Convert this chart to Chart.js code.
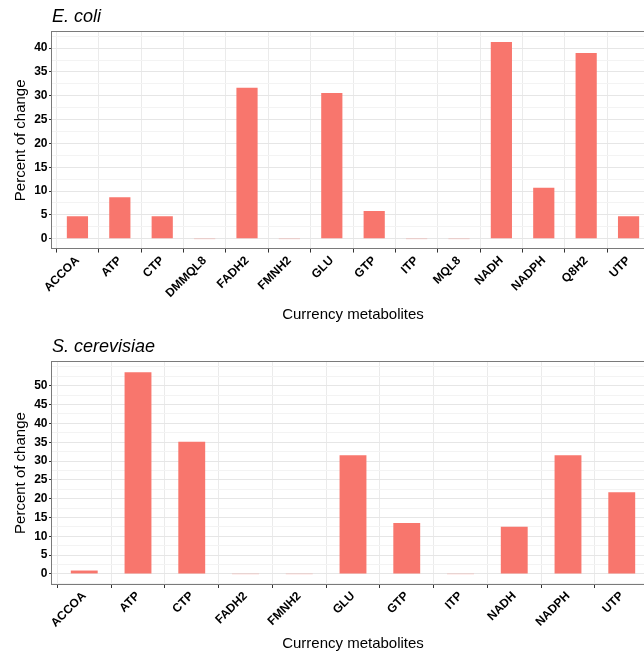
<!DOCTYPE html>
<html>
<head>
<meta charset="utf-8">
<script src="https://cdn.jsdelivr.net/npm/chart.js@4"></script>
<style>
  html, body { margin: 0; padding: 0; background: #fff; overflow: hidden; width: 644px; height: 654px; }
  .panel { position: absolute; left: 0; width: 654px; }
  #p1 { top: 0; height: 327px; }
  #p2 { top: 330px; height: 324px; }
</style>
</head>
<body>
<div class="panel" id="p1"><canvas id="c1"></canvas></div>
<div class="panel" id="p2"><canvas id="c2"></canvas></div>
<script>
// Percent of change per currency metabolite, one panel per organism
const ecoliMetabolites = ['ACCOA', 'ATP', 'CTP', 'DMMQL8', 'FADH2', 'FMNH2', 'GLU', 'GTP', 'ITP', 'MQL8', 'NADH', 'NADPH', 'Q8H2', 'UTP'];
const ecoliChange = [4.7, 8.7, 4.7, 0, 31.7, 0, 30.6, 5.8, 0, 0, 41.3, 10.7, 39.0, 4.7];
const ecoliYTicks = [0, 5, 10, 15, 20, 25, 30, 35, 40];

const yeastMetabolites = ['ACCOA', 'ATP', 'CTP', 'FADH2', 'FMNH2', 'GLU', 'GTP', 'ITP', 'NADH', 'NADPH', 'UTP'];
const yeastChange = [0.9, 53.6, 35.1, 0, 0, 31.5, 13.5, 0, 12.5, 31.5, 21.7];
const yeastYTicks = [0, 5, 10, 15, 20, 25, 30, 35, 40, 45, 50];

const ecoliTitle = 'E. coli';
const yeastTitle = 'S. cerevisiae';
const xAxisTitle = 'Currency metabolites';
const yAxisTitle = 'Percent of change';

Chart.defaults.font.family = '"Liberation Sans", Arial, Helvetica, sans-serif';
Chart.defaults.color = '#000';

// grey frame around the plotting panel
const panelFrame = {
  id: 'panelFrame',
  afterDraw(chart) {
    const a = chart.chartArea, ctx = chart.ctx;
    ctx.save();
    ctx.strokeStyle = '#7a7a7a';
    ctx.lineWidth = 1;
    ctx.strokeRect(Math.round(a.left) - 0.5, Math.round(a.top) - 0.5,
                   Math.round(a.right - a.left) + 1, Math.round(a.bottom - a.top) + 1);
    ctx.restore();
  }
};

function makePanel(canvasId, title, labels, values, yTicks, xTitlePad, padBottom) {
  const n = labels.length;
  const vmax = Math.max(...values);
  const expand = vmax * 0.05;
  const isMajor = (v) => yTicks.some((t) => Math.abs(t - v) < 1e-6);
  return new Chart(document.getElementById(canvasId), {
    type: 'bar',
    data: {
      datasets: [{
        data: values.map((v, i) => ({ x: i, y: v })),
        // zero-height bars still leave a faint sliver on the baseline
        backgroundColor: (c) => (c.raw && c.raw.y === 0) ? 'rgba(248,118,109,0.28)' : '#F8766D',
        minBarLength: 1,
        borderWidth: 0,
        categoryPercentage: 1,
        barPercentage: 0.5
      }]
    },
    options: {
      responsive: true,
      maintainAspectRatio: false,
      animation: false,
      layout: { padding: { left: 8, right: 0, top: 0, bottom: padBottom } },
      plugins: {
        legend: { display: false },
        tooltip: { enabled: false },
        title: {
          display: true,
          text: title,
          align: 'start',
          fullSize: false,
          color: '#000',
          font: { size: 18, style: 'italic', weight: 'normal' },
          padding: { top: 6.5, bottom: 4 }
        }
      },
      scales: {
        x: {
          type: 'linear',
          min: -0.6,
          max: n - 1 + 0.6,
          offset: false,
          border: { display: false },
          grid: {
            color: '#ebebeb',
            lineWidth: 1,
            drawTicks: true,
            tickLength: 4,
            tickColor: '#333'
          },
          ticks: {
            stepSize: 1,
            maxTicksLimit: 100,
            includeBounds: false,
            autoSkip: false,
            maxRotation: 45,
            minRotation: 45,
            padding: 1,
            color: '#000',
            font: { size: 12, weight: 'bold' },
            callback: (v) => Number.isInteger(v) ? labels[v] : ''
          },
          title: {
            display: true,
            text: xAxisTitle,
            color: '#000',
            font: { size: 15 },
            padding: xTitlePad
          }
        },
        y: {
          min: -expand,
          max: vmax + expand,
          border: { display: false },
          afterFit(scale) { scale.width = 44; },
          grid: {
            color: (c) => isMajor(c.tick.value) ? '#e6e6e6' : '#f3f3f3',
            lineWidth: 1,
            drawTicks: true,
            tickLength: 3,
            tickColor: (c) => isMajor(c.tick.value) ? '#333' : 'rgba(0,0,0,0)'
          },
          ticks: {
            stepSize: 2.5,
            maxTicksLimit: 100,
            autoSkip: false,
            includeBounds: false,
            padding: 1.5,
            color: '#000',
            font: { size: 12, weight: 'bold' },
            callback: (v) => isMajor(v) ? String(Math.round(v)) : ''
          },
          title: {
            display: true,
            text: yAxisTitle,
            color: '#000',
            font: { size: 15 },
            padding: { top: 4, bottom: 4 }
          }
        }
      }
    },
    plugins: [panelFrame]
  });
}

makePanel('c1', ecoliTitle, ecoliMetabolites, ecoliChange, ecoliYTicks, { top: 4.5, bottom: 2 }, 1);
makePanel('c2', yeastTitle, yeastMetabolites, yeastChange, yeastYTicks, { top: 3.7, bottom: 1 }, 0);
</script>
</body>
</html>
